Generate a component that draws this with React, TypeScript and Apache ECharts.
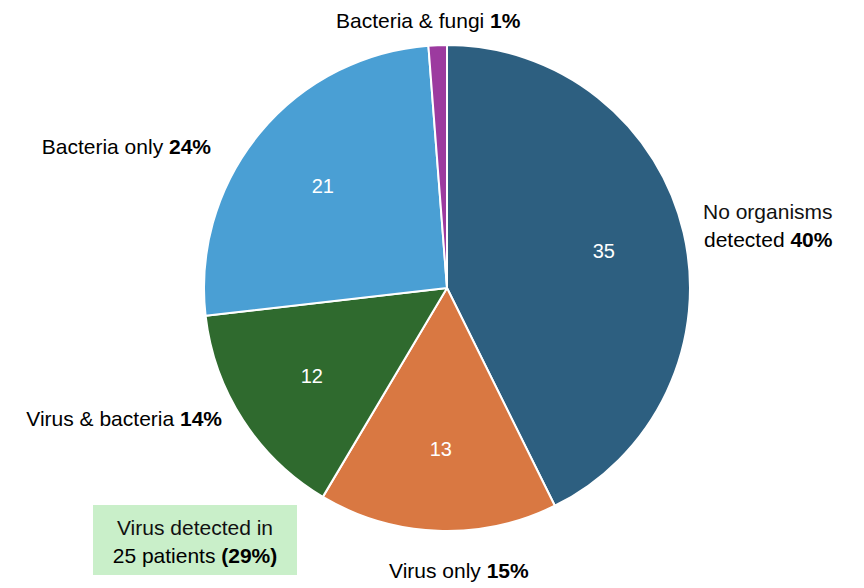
import React, { useEffect, useRef } from "react";
import * as echarts from "echarts";

// Patient counts by organism group
const categories = [
  "No organisms detected",
  "Virus only",
  "Virus & bacteria",
  "Bacteria only",
  "Bacteria & fungi",
];
const counts = [35, 13, 12, 21, 1];
const percents = ["40%", "15%", "14%", "24%", "1%"];
const colors = ["#2d5f80", "#d97842", "#2f6a2e", "#4a9fd4", "#9c3a9f"];
const virusNote = ["Virus detected in", "25 patients", "(29%)"];

const FONT = "'Liberation Sans', Arial, sans-serif";
const FS = 21;

export default function App() {
  const ref = useRef<HTMLDivElement>(null);

  useEffect(() => {
    if (!ref.current) return;
    const chart = echarts.init(ref.current, null, { renderer: "svg" });

    const labelText = (name: string, pct: string) => `{n|${name} }{b|${pct}}`;
    const rich = {
      n: { fontSize: FS, fontFamily: FONT, color: "#111" },
      b: { fontSize: FS, fontFamily: FONT, color: "#111", fontWeight: "bold" },
    };

    const pieData = categories.map((c, i) => ({
      name: c,
      value: counts[i],
      itemStyle: { color: colors[i] },
    }));

    chart.setOption({
      animation: false,
      backgroundColor: "#ffffff",
      series: [
        {
          type: "pie",
          center: [447, 288],
          radius: 243,
          startAngle: 90,
          clockwise: true,
          avoidLabelOverlap: false,
          itemStyle: { borderColor: "#ffffff", borderWidth: 2 },
          label: { show: false },
          labelLine: { show: false },
          data: pieData,
        },
        {
          // transparent ring that carries the count labels further out
          type: "pie",
          center: [447, 288],
          radius: [73, 243],
          startAngle: 90,
          clockwise: true,
          silent: true,
          avoidLabelOverlap: false,
          itemStyle: { color: "rgba(0,0,0,0)", borderWidth: 0 },
          label: {
            show: true,
            position: "inside",
            color: "#ffffff",
            fontSize: 20,
            fontFamily: FONT,
            formatter: (p: any) => (p.value > 5 ? String(p.value) : ""),
          },
          labelLine: { show: false },
          data: categories.map((c, i) => ({ name: c, value: counts[i] })),
        },
      ],
      graphic: [
        {
          type: "text",
          x: 336,
          y: 20,
          style: {
            text: labelText("Bacteria & fungi", percents[4]),
            rich,
            verticalAlign: "middle",
            align: "left",
          },
        },
        {
          type: "text",
          x: 211,
          y: 146,
          style: {
            text: labelText("Bacteria only", percents[3]),
            rich,
            verticalAlign: "middle",
            align: "right",
          },
        },
        {
          type: "text",
          x: 703,
          y: 211,
          style: {
            text: "No organisms",
            font: `${FS}px ${FONT}`,
            fill: "#111",
            verticalAlign: "middle",
            align: "left",
          },
        },
        {
          type: "text",
          x: 704,
          y: 239,
          style: {
            text: labelText("detected", percents[0]),
            rich,
            verticalAlign: "middle",
            align: "left",
          },
        },
        {
          type: "text",
          x: 222,
          y: 418,
          style: {
            text: labelText("Virus & bacteria", percents[2]),
            rich,
            verticalAlign: "middle",
            align: "right",
          },
        },
        {
          type: "text",
          x: 389,
          y: 570,
          style: {
            text: labelText("Virus only", percents[1]),
            rich,
            verticalAlign: "middle",
            align: "left",
          },
        },
        {
          type: "rect",
          shape: { x: 93, y: 505, width: 204, height: 70 },
          style: { fill: "#c9efc9" },
        },
        {
          type: "text",
          x: 195,
          y: 527,
          style: {
            text: virusNote[0],
            font: `${FS}px ${FONT}`,
            fill: "#111",
            verticalAlign: "middle",
            align: "center",
          },
        },
        {
          type: "text",
          x: 195,
          y: 555,
          style: {
            text: `{n|${virusNote[1]} }{b|${virusNote[2]}}`,
            rich,
            verticalAlign: "middle",
            align: "center",
          },
        },
      ],
    });

    return () => chart.dispose();
  }, []);

  return (
    <div
      ref={ref}
      style={{ position: "absolute", left: 0, top: 0, width: 864, height: 588 }}
    />
  );
}
